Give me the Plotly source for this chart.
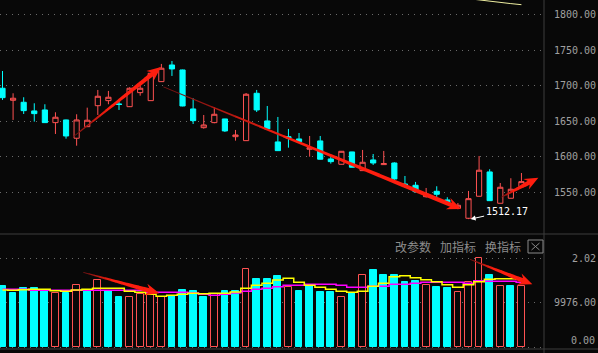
import plotly.graph_objects as go

# ---------------- data ----------------
idx = list(range(50))
opens = [1696.7, 1679.7, 1676.9, 1664.7, 1666.1, 1648.2, 1652.0, 1626.2, 1642.5, 1672.1,
         1679.2, 1674.6, 1670.7, 1690.5, 1679.2, 1706.0, 1729.5, 1722.5, 1667.5, 1641.1,
         1648.2, 1653.4, 1628.4, 1622.8, 1689.6, 1650.6, 1621.0, 1628.4, 1625.2, 1610.7,
         1622.4, 1597.0, 1589.5, 1606.9, 1580.5, 1595.6, 1589.0, 1591.3, 1561.7, 1559.9,
         1543.8, 1551.4, 1539.2, 1527.5, 1513.4, 1544.4, 1578.7, 1534.5, 1541.6, 1557.9]
highs = [1721.0, 1689.6, 1684.0, 1675.5, 1674.1, 1662.8, 1652.5, 1660.0, 1669.3, 1694.3,
         1692.9, 1680.2, 1698.0, 1706.0, 1718.5, 1731.0, 1735.1, 1723.0, 1682.6, 1659.0,
         1669.9, 1653.6, 1637.9, 1690.0, 1694.3, 1671.7, 1656.2, 1639.3, 1633.6, 1629.4,
         1629.4, 1602.6, 1608.1, 1607.2, 1609.7, 1604.0, 1608.3, 1592.3, 1573.0, 1564.6,
         1556.1, 1558.5, 1543.0, 1534.9, 1551.9, 1601.2, 1582.5, 1563.1, 1569.8, 1577.2]
lows = [1680.2, 1652.0, 1660.4, 1649.6, 1648.0, 1632.2, 1625.6, 1615.7, 1642.0, 1659.0,
        1674.1, 1666.1, 1670.2, 1686.2, 1678.8, 1705.6, 1714.0, 1671.2, 1646.3, 1639.7,
        1647.3, 1635.1, 1622.8, 1622.4, 1663.2, 1637.9, 1608.4, 1612.9, 1620.0, 1600.2,
        1596.3, 1590.4, 1589.2, 1585.0, 1580.2, 1588.5, 1588.8, 1567.0, 1556.5, 1549.5,
        1542.5, 1543.0, 1532.2, 1526.1, 1512.17, 1544.0, 1538.0, 1534.2, 1541.3, 1557.5]
closes = [1683.4, 1682.6, 1665.1, 1660.9, 1648.2, 1655.8, 1629.4, 1652.0, 1651.6, 1685.4,
          1684.0, 1673.8, 1696.7, 1696.7, 1717.8, 1724.9, 1723.9, 1671.7, 1651.0, 1644.9,
          1660.0, 1636.5, 1630.8, 1688.2, 1666.1, 1639.3, 1608.7, 1626.6, 1621.4, 1612.9,
          1596.6, 1593.2, 1607.8, 1585.3, 1592.3, 1591.3, 1590.4, 1568.8, 1559.3, 1550.9,
          1547.2, 1547.2, 1534.5, 1531.7, 1541.0, 1581.1, 1538.2, 1557.1, 1554.3, 1565.0]

# long moving average, only its tail end is inside the view
ma_long_idx = [44, 45, 46, 47, 48, 49]
ma_long = [1823.0, 1821.0, 1820.0, 1818.0, 1816.0, 1814.5]

volumes = [13829, 12242, 13375, 13375, 12922, 12242, 12242, 14055, 12922, 15189,
           12695, 11335, 11335, 12015, 12015, 11335, 11562, 12922, 12695, 11335,
           12015, 12695, 12695, 17615, 15416, 15416, 16096, 13602, 12695, 14055,
           12469, 12469, 11335, 12242, 16322, 17456, 16322, 16322, 14736, 14962,
           14055, 13602, 13375, 12469, 14736, 20176, 16322, 13829, 13829, 13829]
vol_up = [0, 0, 0, 0, 0, 1, 0, 1, 0, 1,
          0, 0, 1, 1, 1, 1, 0, 0, 0, 0,
          1, 0, 0, 1, 0, 0, 0, 1, 0, 0,
          0, 0, 1, 0, 1, 0, 0, 0, 0, 0,
          1, 0, 0, 1, 1, 1, 0, 1, 0, 1]
vol_ma5 = [12922, 12854, 12990, 13081, 13081, 12763, 12627, 12922, 13081, 13307,
           13307, 13307, 12627, 12400, 11947, 11494, 11720, 11947, 12174, 12083,
           12174, 12174, 12469, 13307, 13987, 14441, 15189, 15574, 14667, 13987,
           13534, 13081, 12627, 12400, 12627, 13760, 14441, 15937, 16164, 15710,
           15257, 14804, 14123, 13534, 14123, 14804, 15348, 15484, 15484, 15348]
vol_ma10 = [13081, 13081, 13081, 12854, 12854, 12854, 12854, 12854, 12854, 12854,
            12854, 12854, 12854, 12854, 12400, 12400, 12400, 12400, 12242, 11947,
            11720, 11947, 12242, 12627, 13081, 13307, 13670, 13987, 13987, 14214,
            14214, 14214, 13987, 13534, 13534, 13760, 13760, 14214, 14214, 14441,
            14667, 14667, 14667, 14667, 14441, 15030, 14894, 14894, 14894, 14667]

price_ticks = [1550, 1600, 1650, 1700, 1750, 1800]
price_ticktext = ["1550.00", "1600.00", "1650.00", "1700.00", "1750.00", "1800.00"]
vol_ticks = [9976, 19952]
vol_ticktext = ["9976.00", "\u00a0\u00a0\u00a02.02"]
vol_zero_text = "0.00"
low_label = "1512.17"
menu_items = ["改参数", "加指标", "换指标"]

# arrows: (panel, x_tail, y_tail, x_tip, y_tip) in data units
arrows = [
    ("p", 6.66, 1628.0, 14.97, 1726.5),
    ("p", 15.2, 1698.5, 43.3, 1526.5),
    ("p", 47.1, 1543.0, 50.6, 1570.6),
    ("v", 7.63, 16934, 14.8, 12174),
    ("v", 44.15, 19881, 50.03, 14214),
]

# ---------------- layout constants ----------------
W, H = 598, 353
PW = 544
X0, X1 = -0.236, 51.13
P_TOP, P_BOT = 0, 233
P0, P1 = 1492.6, 1821.1
V_TOP, V_BOT = 235, 353
V0, V1 = -1360, 25390
BG = "#080808"
RED = "#ff5252"
CYAN = "#00ffff"
GRID = "#6a6a6a"
LBL = "#a0a0a0"


def to_px(panel, xv, yv):
    px = (xv - X0) / (X1 - X0) * PW
    if panel == "p":
        py = P_TOP + (P1 - yv) / (P1 - P0) * (P_BOT - P_TOP)
    else:
        py = V_TOP + (V1 - yv) / (V1 - V0) * (V_BOT - V_TOP)
    return px, py


def paper(px, py):
    return px / PW, 1 - py / H


def poly_path(pts):
    s = ""
    for i, (px, py) in enumerate(pts):
        xp, yp = paper(px, py)
        s += ("M" if i == 0 else "L") + f"{xp:.5f},{yp:.5f} "
    return s + "Z"


fig = go.Figure()

fig.add_trace(go.Candlestick(
    x=idx, open=opens, high=highs, low=lows, close=closes,
    xaxis="x", yaxis="y",
    increasing=dict(line=dict(color=RED, width=1), fillcolor=BG),
    decreasing=dict(line=dict(color=CYAN, width=1), fillcolor=CYAN),
    whiskerwidth=0, showlegend=False, hoverinfo="skip",
))

fig.add_trace(go.Scatter(
    x=ma_long_idx, y=ma_long, mode="lines", xaxis="x", yaxis="y",
    line=dict(color="#eeeea0", width=1), showlegend=False, hoverinfo="skip",
))

fig.add_trace(go.Bar(
    x=idx, y=volumes, xaxis="x", yaxis="y2", width=0.64,
    marker=dict(color=[BG if u else CYAN for u in vol_up],
                line=dict(color=[RED if u else CYAN for u in vol_up], width=1)),
    showlegend=False, hoverinfo="skip",
))

fig.add_trace(go.Scatter(
    x=idx, y=vol_ma10, mode="lines", xaxis="x", yaxis="y2", line_shape="hvh",
    line=dict(color="#ff00ff", width=1.5), showlegend=False, hoverinfo="skip",
))
fig.add_trace(go.Scatter(
    x=idx, y=vol_ma5, mode="lines", xaxis="x", yaxis="y2", line_shape="hvh",
    line=dict(color="#ffff00", width=1.5), showlegend=False, hoverinfo="skip",
))

shapes = []
# panel frame lines
line_col = "#3c3c3c"
shapes.append(dict(type="line", xref="paper", yref="paper", x0=1, x1=1, y0=0, y1=1,
                   line=dict(color=line_col, width=1)))
for ypx in (234, 349):
    yp = 1 - ypx / H
    shapes.append(dict(type="line", xref="paper", yref="paper", x0=0, x1=W / PW,
                       y0=yp, y1=yp, line=dict(color=line_col, width=1)))

# hand drawn style arrows
import math
for (panel, xt, yt, xh, yh) in arrows:
    ax, ay = to_px(panel, xt, yt)
    bx, by = to_px(panel, xh, yh)
    L = math.hypot(bx - ax, by - ay)
    ux, uy = (bx - ax) / L, (by - ay) / L
    nx, ny = -uy, ux
    hl, hw = 14.0, 12.0
    w0, w1 = 0.8, 4.5
    shaft_len = L - hl + 3
    N = 12
    for k in range(N):
        u0 = shaft_len * k / N
        u1 = shaft_len * (k + 1) / N + 0.5
        ww0 = w0 + (w1 - w0) * (u0 / shaft_len)
        ww1 = w0 + (w1 - w0) * min(1, u1 / shaft_len)
        t = min(1.0, (k + 0.5) / (N * 0.45))
        col = f"rgb({int(110 + 145 * t)},{int(20 + 10 * t)},{int(20 - 5 * t)})"
        pts = [(ax + ux * u0 + nx * ww0 / 2, ay + uy * u0 + ny * ww0 / 2),
               (ax + ux * u1 + nx * ww1 / 2, ay + uy * u1 + ny * ww1 / 2),
               (ax + ux * u1 - nx * ww1 / 2, ay + uy * u1 - ny * ww1 / 2),
               (ax + ux * u0 - nx * ww0 / 2, ay + uy * u0 - ny * ww0 / 2)]
        shapes.append(dict(type="path", xref="paper", yref="paper", path=poly_path(pts),
                           fillcolor=col, line=dict(width=0), layer="above"))
    ub = L - hl
    head = [(bx, by),
            (ax + ux * ub + nx * hw / 2, ay + uy * ub + ny * hw / 2),
            (ax + ux * (ub + 3) + nx * w1 / 2, ay + uy * (ub + 3) + ny * w1 / 2),
            (ax + ux * (ub + 3) - nx * w1 / 2, ay + uy * (ub + 3) - ny * w1 / 2),
            (ax + ux * ub - nx * hw / 2, ay + uy * ub - ny * hw / 2)]
    shapes.append(dict(type="path", xref="paper", yref="paper", path=poly_path(head),
                       fillcolor="rgb(255,30,15)", line=dict(width=0), layer="above"))

# close box with X
bx0, by0, bx1, by1 = 528, 240, 543, 253
p0 = paper(bx0, by0); p1 = paper(bx1, by1)
shapes.append(dict(type="rect", xref="paper", yref="paper", x0=p0[0], y0=p0[1], x1=p1[0], y1=p1[1],
                   line=dict(color="#8a8a8a", width=1), fillcolor=BG))
for (xa, ya, xb, yb) in [(531.5, 243, 539.5, 250), (531.5, 250, 539.5, 243)]:
    q0 = paper(xa, ya); q1 = paper(xb, yb)
    shapes.append(dict(type="line", xref="paper", yref="paper", x0=q0[0], y0=q0[1], x1=q1[0], y1=q1[1],
                       line=dict(color="#8a8a8a", width=1)))

annotations = []
mx = [393, 437.5, 482.5]
for t, xpx in zip(menu_items, mx):
    annotations.append(dict(text=t, xref="paper", yref="paper", x=xpx / PW, y=1 - 246 / H,
                            xanchor="left", yanchor="middle", showarrow=False,
                            font=dict(family="Noto Sans CJK SC", size=12, color="#8c8c8c")))
annotations.append(dict(text=vol_zero_text, xref="paper", yref="paper", x=597 / PW, y=1 - 340 / H,
                        xanchor="right", yanchor="middle", showarrow=False,
                        font=dict(family="DejaVu Sans Mono", size=10, color=LBL)))
low_i = lows.index(min(lows))
annotations.append(dict(text=low_label, x=idx[low_i] + 0.2, y=lows[low_i], xref="x", yref="y",
                        ax=36, ay=-8, showarrow=True, arrowcolor="#ffffff", arrowwidth=1,
                        arrowhead=2, arrowsize=1, standoff=0,
                        font=dict(family="DejaVu Sans Mono", size=10, color="#ffffff")))

fig.update_layout(
    width=W, height=H, margin=dict(l=0, r=W - PW, t=0, b=0),
    paper_bgcolor=BG, plot_bgcolor=BG, showlegend=False, bargap=0,
    xaxis=dict(range=[X0, X1], visible=False, rangeslider=dict(visible=False), fixedrange=True),
    yaxis=dict(domain=[1 - P_BOT / H, 1], range=[P0, P1], side="right", anchor="x",
               tickvals=price_ticks, ticktext=price_ticktext, showgrid=True,
               gridcolor=GRID, griddash="1px,5px", gridwidth=1, zeroline=False, showline=False,
               ticks="", ticklabelstandoff=9,
               tickfont=dict(family="DejaVu Sans Mono", size=10, color=LBL)),
    yaxis2=dict(domain=[0, 1 - V_TOP / H], range=[V0, V1], side="right", anchor="x",
                tickvals=[0] + vol_ticks, ticktext=[""] + vol_ticktext, showgrid=True,
                gridcolor=GRID, griddash="1px,5px", gridwidth=1, zeroline=False, showline=False,
                ticks="", ticklabelstandoff=9,
                tickfont=dict(family="DejaVu Sans Mono", size=10, color=LBL)),
    shapes=shapes, annotations=annotations,
)

fig.write_html("out.html")
